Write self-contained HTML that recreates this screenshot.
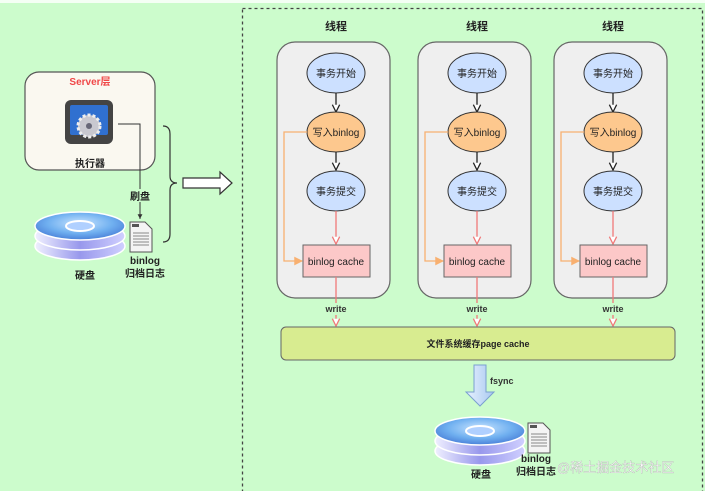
<!DOCTYPE html>
<html><head><meta charset="utf-8"><style>
html,body{margin:0;padding:0;background:#fff}
svg{display:block}
text{font-family:"Liberation Sans","Noto Sans CJK SC",sans-serif}
</style></head><body>
<svg width="705" height="491" viewBox="0 0 705 491" xmlns="http://www.w3.org/2000/svg">
<defs>
<marker id="ab" viewBox="0 0 10 10" refX="9" refY="5" markerWidth="7" markerHeight="7" orient="auto"><path d="M1,1 L9,5 L1,9" fill="#fff" stroke="#222" stroke-width="1.4"/></marker>
<marker id="ar" viewBox="0 0 10 10" refX="9" refY="5" markerWidth="7" markerHeight="7" orient="auto"><path d="M1,1 L9,5 L1,9" fill="#fff" stroke="#f07878" stroke-width="1.4"/></marker>
<marker id="ao" viewBox="0 0 10 10" refX="9" refY="5" markerWidth="7" markerHeight="7" orient="auto"><path d="M1,1 L9,5 L1,9 z" fill="#f8b070" stroke="#f8b070"/></marker>
<marker id="ak" viewBox="0 0 10 10" refX="9" refY="5" markerWidth="6" markerHeight="6" orient="auto"><path d="M1,1 L9,5 L1,9 z" fill="#333"/></marker>
<radialGradient id="dg" cx="0.5" cy="0.4" r="0.6"><stop offset="0" stop-color="#c8e4ff"/><stop offset="0.6" stop-color="#70b0f0"/><stop offset="1" stop-color="#4a80d8"/></radialGradient>
<linearGradient id="dg2" x1="0" y1="0" x2="1" y2="0"><stop offset="0" stop-color="#f0f0ff"/><stop offset="0.5" stop-color="#9898ec"/><stop offset="1" stop-color="#d0d0ff"/></linearGradient>
<linearGradient id="fa" x1="0" y1="0" x2="1" y2="0"><stop offset="0" stop-color="#e8f2ff"/><stop offset="1" stop-color="#a8c8f0"/></linearGradient>
<g id="disk">
<ellipse cx="0" cy="22" rx="45" ry="14" fill="url(#dg2)" stroke="#fff" stroke-width="1.5"/>
<ellipse cx="0" cy="12" rx="45" ry="14" fill="url(#dg2)" stroke="#fff" stroke-width="1.5"/>
<ellipse cx="0" cy="2" rx="45" ry="14" fill="url(#dg)" stroke="#fff" stroke-width="1.5"/>
<ellipse cx="0" cy="2" rx="14" ry="5" fill="#b0d0ff" stroke="#fff" stroke-width="2"/>
</g>
<g id="doc">
<path d="M0,0 H15 L22,7 V30 H0 Z" fill="#f4f4f4" stroke="#555"/>
<rect x="2" y="2" width="7" height="3" fill="#555"/>
<g stroke="#888" stroke-width="1"><line x1="3" y1="11" x2="19" y2="11"/><line x1="3" y1="14" x2="19" y2="14"/><line x1="3" y1="17" x2="19" y2="17"/><line x1="3" y1="20" x2="19" y2="20"/><line x1="3" y1="23" x2="19" y2="23"/></g>
</g>
<g id="col">
<rect x="-59" y="42" width="113" height="256" rx="18" fill="#efefef" stroke="#666" stroke-width="1.2"/>
<text x="0" y="30" font-size="11" font-weight="bold" text-anchor="middle" fill="#222">线程</text>
<ellipse cx="0" cy="73" rx="29" ry="20" fill="#cce0ff" stroke="#333"/>
<text x="0" y="77" font-size="10" text-anchor="middle" fill="#222">事务开始</text>
<line x1="0" y1="93" x2="0" y2="112" stroke="#222" stroke-width="1.3" marker-end="url(#ab)"/>
<ellipse cx="0" cy="132" rx="29" ry="20" fill="#fdc88e" stroke="#333"/>
<text x="0" y="136" font-size="10" text-anchor="middle" fill="#222">写入binlog</text>
<line x1="0" y1="152" x2="0" y2="170" stroke="#222" stroke-width="1.3" marker-end="url(#ab)"/>
<ellipse cx="0" cy="191" rx="29" ry="20" fill="#cce0ff" stroke="#333"/>
<text x="0" y="195" font-size="10" text-anchor="middle" fill="#222">事务提交</text>
<line x1="0" y1="211" x2="0" y2="244" stroke="#f07878" stroke-width="1.3" marker-end="url(#ar)"/>
<polyline points="-29,132 -52,132 -52,261 -34,261" fill="none" stroke="#f8b070" stroke-width="1.3" marker-end="url(#ao)"/>
<rect x="-33" y="245" width="67" height="32" fill="#fcc8c8" stroke="#666"/>
<text x="0" y="265" font-size="10" text-anchor="middle" fill="#222">binlog cache</text>
<line x1="0" y1="277" x2="0" y2="326" stroke="#f07878" stroke-width="1.3" marker-end="url(#ar)"/>
<rect x="-14" y="303" width="28" height="12" fill="#ccfccc"/>
<text x="0" y="312" font-size="9" font-weight="bold" text-anchor="middle" fill="#333">write</text>
</g>
</defs>
<rect x="0" y="0" width="705" height="491" fill="#ccfccc"/>
<rect x="0" y="0" width="705" height="3" fill="#f4fff4"/>
<rect x="242.5" y="8.5" width="460" height="490" fill="none" stroke="#444" stroke-width="1.3" stroke-dasharray="3,3"/>
<rect x="25" y="72" width="130" height="98" rx="14" fill="#faf8f0" stroke="#555" stroke-width="1.2"/>
<text x="90" y="85" font-size="10" font-weight="bold" text-anchor="middle" fill="#f04848">Server层</text>
<rect x="65" y="100" width="48" height="44" rx="6" fill="#444"/>
<rect x="70" y="105" width="38" height="30" rx="2" fill="#3070d0"/>
<circle cx="89" cy="126" r="11" fill="#c8c8d0" stroke="#eee" stroke-width="3" stroke-dasharray="3,2"/>
<circle cx="89" cy="126" r="3" fill="#667"/>
<text x="90" y="167" font-size="10" font-weight="bold" text-anchor="middle" fill="#222">执行器</text>
<polyline points="118,124 140,124 140,219" fill="none" stroke="#333" stroke-width="1" marker-end="url(#ak)"/>
<rect x="128" y="189" width="24" height="13" fill="#ccfccc"/>
<text x="140" y="200" font-size="10" font-weight="bold" text-anchor="middle" fill="#222">刷盘</text>
<use href="#disk" x="80" y="224"/>
<use href="#doc" x="130" y="222"/>
<text x="85" y="279" font-size="10" font-weight="bold" text-anchor="middle" fill="#222">硬盘</text>
<text x="145" y="264" font-size="10" font-weight="bold" text-anchor="middle" fill="#222">binlog</text>
<text x="145" y="277" font-size="10" font-weight="bold" text-anchor="middle" fill="#222">归档日志</text>
<path d="M163,126 Q170,126 170,134 V176 Q170,183 177,183 Q170,183 170,190 V234 Q170,242 163,242" fill="none" stroke="#333" stroke-width="1.2"/>
<path d="M183,178 H220 V172 L232,183 L220,194 V188 H183 Z" fill="#fff" stroke="#333" stroke-width="1.2"/>
<use href="#col" x="336" y="0"/>
<use href="#col" x="477" y="0"/>
<use href="#col" x="613" y="0"/>
<rect x="281" y="327" width="394" height="33" rx="5" fill="#d8ec90" stroke="#666"/>
<text x="478" y="347" font-size="9" font-weight="bold" text-anchor="middle" fill="#222">文件系统缓存page cache</text>
<path d="M474,365 H486 V392 H494 L480,406 L466,392 H474 Z" fill="url(#fa)" stroke="#7aa0d0"/>
<text x="490" y="384" font-size="9" font-weight="bold" fill="#333">fsync</text>
<use href="#disk" x="480" y="429"/>
<use href="#doc" x="528" y="423"/>
<text x="481" y="478" font-size="10" font-weight="bold" text-anchor="middle" fill="#222">硬盘</text>
<text x="536" y="462" font-size="10" font-weight="bold" text-anchor="middle" fill="#222">binlog</text>
<text x="536" y="475" font-size="10" font-weight="bold" text-anchor="middle" fill="#222">归档日志</text>
<text x="557" y="472" font-size="13" fill="#fff" stroke="#aaa" stroke-width="0.3">@稀土掘金技术社区</text>
</svg>
</body></html>
